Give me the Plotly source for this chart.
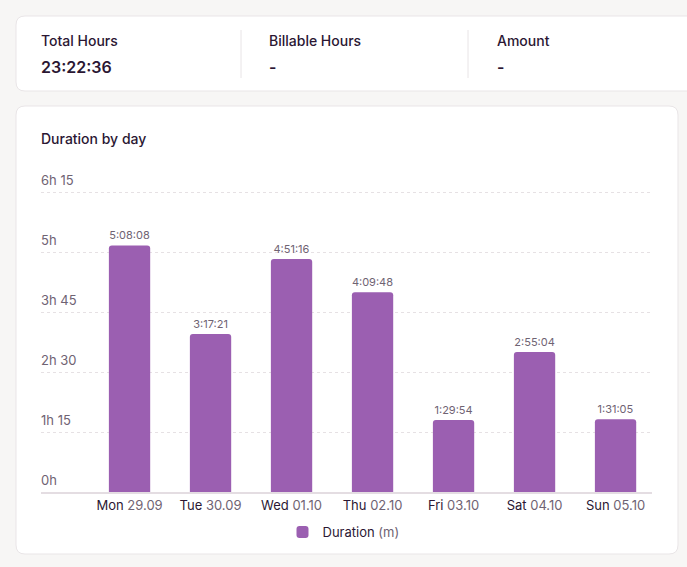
import plotly.graph_objects as go

# data
days = ["Mon", "Tue", "Wed", "Thu", "Fri", "Sat", "Sun"]
dates = ["29.09", "30.09", "01.10", "02.10", "03.10", "04.10", "05.10"]
durations = ["5:08:08", "3:17:21", "4:51:16", "4:09:48", "1:29:54", "2:55:04", "1:31:05"]
y_ticks = [0, 75, 150, 225, 300, 375]
y_tick_labels = ["0h", "1h 15", "2h 30", "3h 45", "5h", "6h 15"]
summary_titles = ["Total Hours", "Billable Hours", "Amount"]
summary_values = ["23:22:36", "-", "-"]

W, H = 687, 567
DARK = "#2b1733"
GREY = "#6f6373"
BAR = "#9b5fb1"
FONT = "Inter"
Y_MAX = 395  # headroom so the top gridline is drawn


def to_minutes(s):
    h, m, sec = [int(p) for p in s.split(":")]
    return h * 60 + m + sec / 60


def px(x):
    return x / W


def py(y):
    return 1 - y / H


def rounded_rect(x0, y0, x1, y1, r):
    # path in paper coords, corners drawn with quadratic curves
    pts = [
        f"M {px(x0 + r)} {py(y0)}",
        f"L {px(x1 - r)} {py(y0)}",
        f"Q {px(x1)} {py(y0)} {px(x1)} {py(y0 + r)}",
        f"L {px(x1)} {py(y1 - r)}",
        f"Q {px(x1)} {py(y1)} {px(x1 - r)} {py(y1)}",
        f"L {px(x0 + r)} {py(y1)}",
        f"Q {px(x0)} {py(y1)} {px(x0)} {py(y1 - r)}",
        f"L {px(x0)} {py(y0 + r)}",
        f"Q {px(x0)} {py(y0)} {px(x0 + r)} {py(y0)}",
        "Z",
    ]
    return " ".join(pts)


minutes = [to_minutes(d) for d in durations]
labels = [f"{d} <span style='color:{GREY}'>{dt}</span>" for d, dt in zip(days, dates)]

fig = go.Figure(go.Bar(
    x=labels,
    y=minutes,
    text=durations,
    textposition="outside",
    textfont=dict(size=11, color=GREY, family=FONT),
    cliponaxis=False,
    width=0.51,
    marker=dict(color=BAR, cornerradius=3, line=dict(width=0)),
    name=f"Duration <span style='color:{GREY}'>(m)</span>",
    showlegend=True,
))

shapes = [
    dict(type="path", xref="paper", yref="paper", layer="below",
         path=rounded_rect(16, 16, 720, 91, 9),
         fillcolor="white", line=dict(color="#e9e5e7", width=1)),
    dict(type="path", xref="paper", yref="paper", layer="below",
         path=rounded_rect(16, 106, 678, 554, 9),
         fillcolor="white", line=dict(color="#e9e5e7", width=1)),
]
for xd in [241, 468]:
    shapes.append(dict(type="line", xref="paper", yref="paper",
                       x0=px(xd), x1=px(xd), y0=py(30), y1=py(78),
                       line=dict(color="#e8e4e6", width=1)))

annotations = []
for i, (t, v) in enumerate(zip(summary_titles, summary_values)):
    x0 = 39 + i * 228
    annotations.append(dict(x=px(x0), y=py(40), xref="paper", yref="paper",
                            text=t, showarrow=False, xanchor="left", yanchor="middle",
                            font=dict(size=14, color=DARK, family=FONT, weight=500)))
    annotations.append(dict(x=px(x0), y=py(67), xref="paper", yref="paper",
                            text=v, showarrow=False, xanchor="left", yanchor="middle",
                            font=dict(size=16, color=DARK, family=FONT, weight=600)))
annotations.append(dict(x=px(39), y=py(138), xref="paper", yref="paper",
                        text="Duration by day", showarrow=False,
                        xanchor="left", yanchor="middle",
                        font=dict(size=14, color=DARK, family=FONT, weight=500)))

# y labels sit above their gridlines, left aligned like the dashboard
for tv, tt in zip(y_ticks, y_tick_labels):
    annotations.append(dict(x=px(39), y=tv, xref="paper", yref="y",
                            text=tt, showarrow=False, xanchor="left",
                            yanchor="middle", yshift=12,
                            font=dict(size=13, color=GREY, family=FONT)))

fig.update_layout(
    width=W, height=H,
    margin=dict(l=0, r=0, t=0, b=0),
    paper_bgcolor="#f7f6f5",
    plot_bgcolor="rgba(0,0,0,0)",
    font=dict(family=FONT, color=DARK, size=13),
    shapes=shapes,
    annotations=annotations,
    bargap=0.49,
    xaxis=dict(
        domain=[px(41), px(652)],
        range=[-1.093, 6.45],
        showgrid=False,
        showline=True, linecolor="#e4dde2", linewidth=2,
        ticks="", tickfont=dict(size=13, color=DARK, family=FONT),
        fixedrange=True,
    ),
    yaxis=dict(
        domain=[py(492), py(492 - Y_MAX * 0.8)],
        range=[0, Y_MAX],
        tickvals=y_ticks,
        showticklabels=False,
        showgrid=True, gridcolor="#e6e1e4", griddash="dot", gridwidth=1,
        zeroline=False, showline=False, ticks="",
        fixedrange=True,
    ),
    legend=dict(
        orientation="h", x=0.5, xanchor="center",
        y=py(532), yanchor="middle",
        font=dict(size=13, color=DARK, family=FONT),
        bgcolor="rgba(0,0,0,0)",
        itemwidth=30,
    ),
)

fig.write_html(
    "out.html",
    config={"displayModeBar": False},
    post_script="document.body.style.margin='0';document.body.style.background='#f7f6f5';",
)
